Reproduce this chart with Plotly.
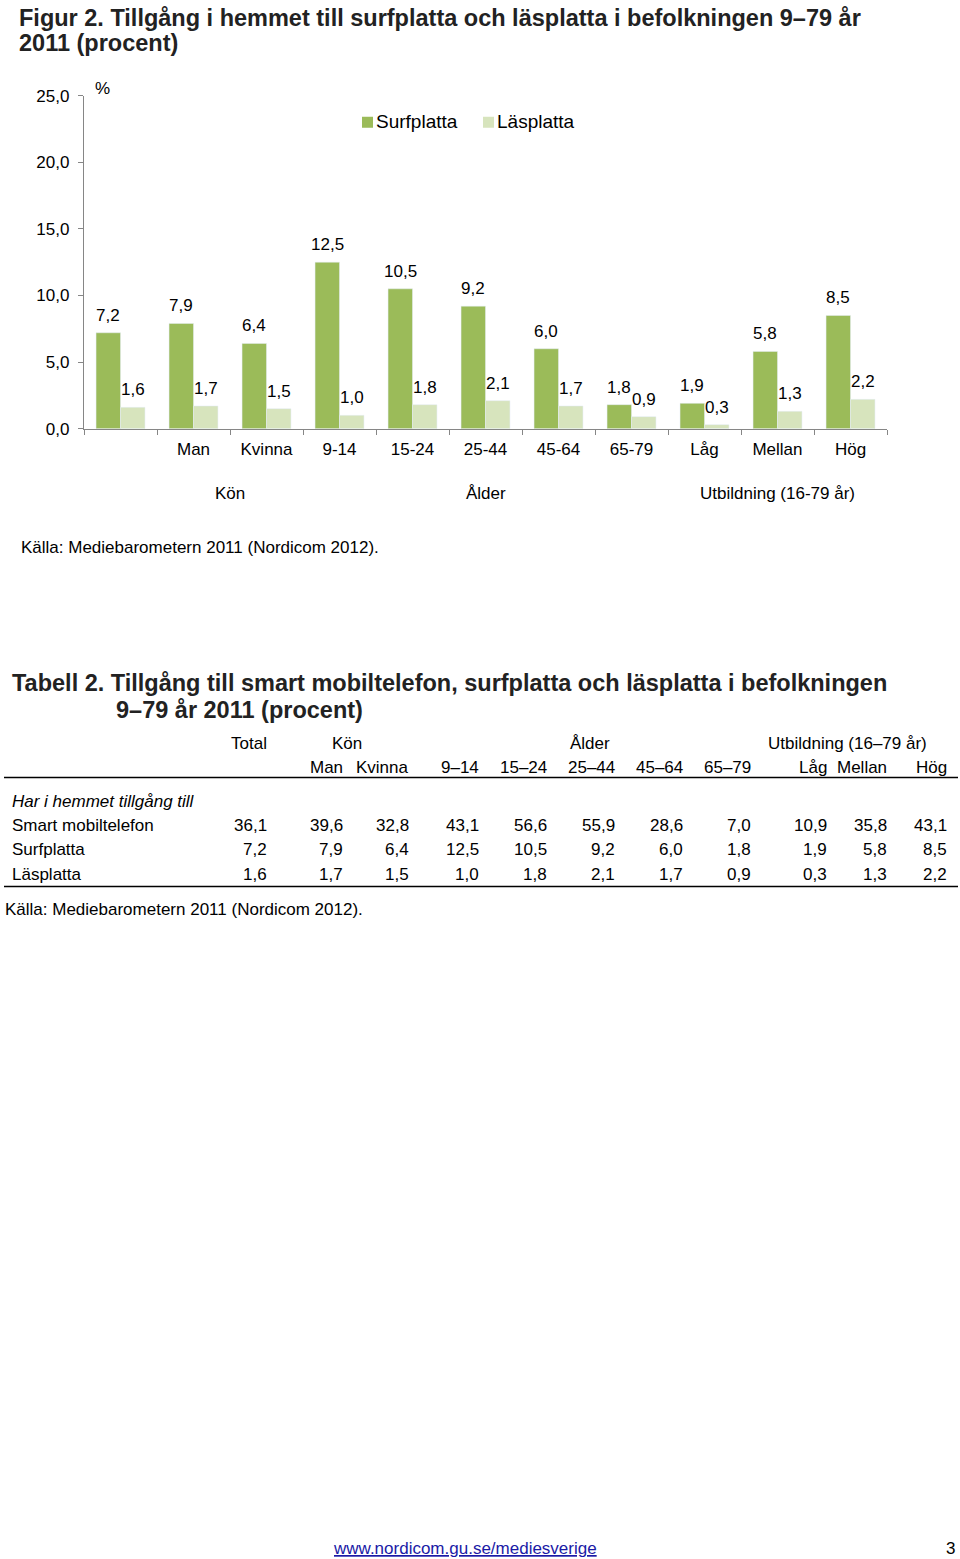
import plotly.graph_objects as go

# ---------------- data ----------------
categories = ["", "Man", "Kvinna", "9-14", "15-24", "25-44", "45-64", "65-79", "Låg", "Mellan", "Hög"]
surfplatta = [7.2, 7.9, 6.4, 12.5, 10.5, 9.2, 6.0, 1.8, 1.9, 5.8, 8.5]
lasplatta = [1.6, 1.7, 1.5, 1.0, 1.8, 2.1, 1.7, 0.9, 0.3, 1.3, 2.2]
series_names = ["Surfplatta", "Läsplatta"]
y_ticks = [0, 5, 10, 15, 20, 25]
group_labels = ["Kön", "Ålder", "Utbildning (16-79 år)"]
group_centers = [1.5, 5, 9]

table_cols = ["Man", "Kvinna", "9–14", "15–24", "25–44", "45–64", "65–79", "Låg", "Mellan", "Hög"]
table_groups = ["Kön", "Ålder", "Utbildning (16–79 år)"]
table_rows = ["Smart mobiltelefon", "Surfplatta", "Läsplatta"]
smart_mobil = [36.1, 39.6, 32.8, 43.1, 56.6, 55.9, 28.6, 7.0, 10.9, 35.8, 43.1]
table_values = [smart_mobil, surfplatta, lasplatta]

GREEN = "#9BBB59"
LIGHT = "#D7E4BD"
FONT = "Liberation Sans, Arial, sans-serif"
W, H = 960, 1572
TXT = 17
TITLE = 23.5
# vertical calibration of the photographed page (measured on earlier renders)
Y_OFF, Y_SCALE = 8.2, 0.9883


def px(x):
    return x / W


def fy(y):
    """figure pixel row that lands on picture row y"""
    return (y - Y_OFF) / Y_SCALE


def py(y):
    return 1 - fy(y) / H


def fmt(v):
    return f"{v:.1f}".replace(".", ",")


xs = list(range(len(categories)))
fig = go.Figure()
fig.add_trace(go.Bar(x=xs, y=surfplatta, name=series_names[0], marker_color=GREEN, showlegend=False))
fig.add_trace(go.Bar(x=xs, y=lasplatta, name=series_names[1], marker_color=LIGHT, showlegend=False))

annotations = []
shapes = []
bargap = 0.33
half = (1 - bargap) / 4
for i, (s, l) in enumerate(zip(surfplatta, lasplatta)):
    annotations.append(dict(x=i - half, y=s, xref="x", yref="y", text=fmt(s), showarrow=False,
                            yshift=17.5, yanchor="middle", font=dict(size=TXT, color="#000")))
    annotations.append(dict(x=i + half, y=l, xref="x", yref="y", text=fmt(l), showarrow=False,
                            yshift=17.5, yanchor="middle", font=dict(size=TXT, color="#000")))

for g, c in zip(group_labels, group_centers):
    annotations.append(dict(x=c, y=py(493), xref="x", yref="paper", text=g, showarrow=False,
                            yanchor="middle", font=dict(size=TXT, color="#000")))

# legend (manual, to match the compact spacing of the original)
for name, col, lx in zip(series_names, [GREEN, LIGHT], [362, 483]):
    shapes.append(dict(type="rect", xref="paper", yref="paper", x0=px(lx), x1=px(lx + 11),
                       y0=py(127), y1=py(116), fillcolor=col, line=dict(width=0)))
    annotations.append(dict(x=px(lx + 12), y=py(121), xref="paper", yref="paper", text=name,
                            showarrow=False, xanchor="left", yanchor="middle",
                            font=dict(size=19, color="#000")))

# % label
annotations.append(dict(x=px(93), y=py(88), xref="paper", yref="paper", text="%", showarrow=False,
                        xanchor="left", yanchor="middle", font=dict(size=TXT, color="#000")))

# titles
annotations.append(dict(x=px(17), y=1 - 9.5 / H, xref="paper", yref="paper",
                        text="<b>Figur 2. Tillgång i hemmet till surfplatta och läsplatta i befolkningen 9–79 år</b>",
                        showarrow=False, xanchor="left", yanchor="middle", font=dict(size=TITLE, color="#222")))
annotations.append(dict(x=px(17), y=py(42.5), xref="paper", yref="paper",
                        text="<b>2011 (procent)</b>",
                        showarrow=False, xanchor="left", yanchor="middle", font=dict(size=TITLE, color="#222")))
annotations.append(dict(x=px(19), y=py(547), xref="paper", yref="paper",
                        text="Källa: Mediebarometern 2011 (Nordicom 2012).",
                        showarrow=False, xanchor="left", yanchor="middle", font=dict(size=TXT, color="#000")))

# table
annotations.append(dict(x=px(10), y=py(682), xref="paper", yref="paper",
                        text="<b>Tabell 2. Tillgång till smart mobiltelefon, surfplatta och läsplatta i befolkningen</b>",
                        showarrow=False, xanchor="left", yanchor="middle", font=dict(size=TITLE, color="#222")))
annotations.append(dict(x=px(114), y=py(709), xref="paper", yref="paper",
                        text="<b>9–79 år 2011 (procent)</b>",
                        showarrow=False, xanchor="left", yanchor="middle", font=dict(size=TITLE, color="#222")))

col_right = [269, 345, 411, 481, 549, 617, 685, 753, 829, 889, 949]
annotations.append(dict(x=px(269), y=py(743), xref="paper", yref="paper", text="Total", showarrow=False,
                        xanchor="right", yanchor="middle", font=dict(size=TXT, color="#000")))
for g, cx in zip(table_groups, [347, 590, 847]):
    annotations.append(dict(x=px(cx), y=py(743), xref="paper", yref="paper", text=g, showarrow=False,
                            xanchor="center", yanchor="middle", font=dict(size=TXT, color="#000")))
for c, xr in zip(table_cols, col_right[1:]):
    annotations.append(dict(x=px(xr), y=py(767), xref="paper", yref="paper", text=c, showarrow=False,
                            xanchor="right", yanchor="middle", font=dict(size=TXT, color="#000")))
annotations.append(dict(x=px(10), y=py(801), xref="paper", yref="paper", text="<i>Har i hemmet tillgång till</i>",
                        showarrow=False, xanchor="left", yanchor="middle", font=dict(size=TXT, color="#000")))
for r, vals, yy in zip(table_rows, table_values, [825, 849, 874]):
    annotations.append(dict(x=px(10), y=py(yy), xref="paper", yref="paper", text=r, showarrow=False,
                            xanchor="left", yanchor="middle", font=dict(size=TXT, color="#000")))
    for v, xr in zip(vals, col_right):
        annotations.append(dict(x=px(xr), y=py(yy), xref="paper", yref="paper", text=fmt(v), showarrow=False,
                                xanchor="right", yanchor="middle", font=dict(size=TXT, color="#000")))
annotations.append(dict(x=px(3), y=py(909), xref="paper", yref="paper",
                        text="Källa: Mediebarometern 2011 (Nordicom 2012).",
                        showarrow=False, xanchor="left", yanchor="middle", font=dict(size=TXT, color="#000")))

# footer
annotations.append(dict(x=px(465), y=py(1548), xref="paper", yref="paper",
                        text="<u>www.nordicom.gu.se/mediesverige</u>",
                        showarrow=False, xanchor="center", yanchor="middle", font=dict(size=TXT, color="#1a1aa6")))
annotations.append(dict(x=px(957), y=py(1548), xref="paper", yref="paper", text="3",
                        showarrow=False, xanchor="right", yanchor="middle", font=dict(size=TXT, color="#000")))

shapes += [
    dict(type="line", xref="paper", yref="paper", x0=px(4), x1=px(958), y0=py(777), y1=py(777),
         line=dict(color="#000", width=1.5)),
    dict(type="line", xref="paper", yref="paper", x0=px(4), x1=px(958), y0=py(886), y1=py(886),
         line=dict(color="#000", width=1.5)),
]

fig.update_layout(
    width=W, height=H,
    margin=dict(l=0, r=0, t=0, b=0),
    paper_bgcolor="white", plot_bgcolor="white",
    font=dict(family=FONT, size=TXT, color="#000"),
    separators=", ",
    barmode="group", bargap=bargap, bargroupgap=0,
    showlegend=False,
    xaxis=dict(domain=[px(84), px(887)], range=[-0.5, len(categories) - 0.5],
               tickmode="array", tickvals=xs, ticktext=categories, ticks="",
               showline=True, linecolor="#868686", linewidth=1.3, showgrid=False, zeroline=False,
               ticklabelstandoff=5, tickfont=dict(size=TXT),
               minor=dict(tickmode="array", tickvals=[i - 0.5 for i in range(len(categories) + 1)],
                          ticks="outside", ticklen=5, tickcolor="#868686", tickwidth=1.3, showgrid=False)),
    yaxis=dict(domain=[py(428), py(95)], range=[0, 25], tickmode="array", tickvals=y_ticks,
               tickformat=".1f", ticks="outside", ticklen=5, tickcolor="#868686", tickwidth=1.3,
               showline=True, linecolor="#868686", linewidth=1.3, showgrid=False, zeroline=False,
               ticklabelstandoff=5, tickfont=dict(size=TXT)),
    annotations=annotations,
    shapes=shapes,
)

post = "document.body.style.margin='0';document.body.style.padding='0';"
fig.write_html("out.html", config={"displayModeBar": False}, post_script=post)
